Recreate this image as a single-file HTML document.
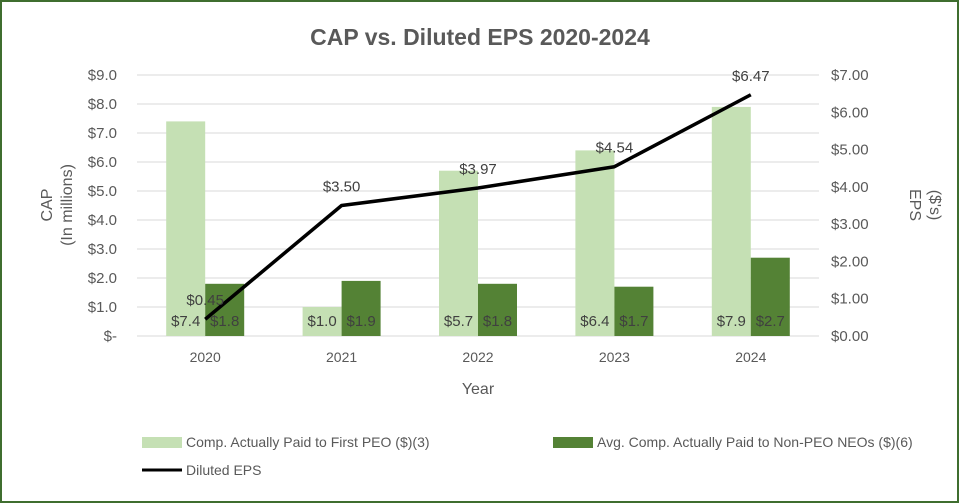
<!DOCTYPE html>
<html><head><meta charset="utf-8"><style>
body{margin:0;background:#fff}
svg{display:block;font-family:"Liberation Sans",sans-serif}
</style></head><body>
<svg id="c" width="959" height="503">
<rect x="1" y="1" width="957" height="501" fill="#fff" stroke="#3f6e2f" stroke-width="2"/>
<text x="480" y="45" text-anchor="middle" font-size="23" font-weight="bold" fill="#595959">CAP vs. Diluted EPS 2020-2024</text>
<g id="grid"></g><g id="bars"></g><g id="line"></g><g id="labels"></g><g id="axes"></g>
<text transform="translate(58,205) rotate(-90)" text-anchor="middle" font-size="16" fill="#595959"><tspan x="0" dy="-6">CAP</tspan><tspan x="0" dy="20">(In millions)</tspan></text>
<text transform="translate(910,205) rotate(90)" text-anchor="middle" font-size="16" fill="#595959">EPS</text>
<text transform="translate(930,205) rotate(90)" text-anchor="middle" font-size="16" fill="#595959">($'s)</text>
<text x="478" y="394" text-anchor="middle" font-size="16" fill="#595959">Year</text>
<g font-size="14" fill="#595959">
<rect x="142" y="437" width="40" height="11" fill="#c5e0b4"/>
<text x="186" y="447">Comp. Actually Paid to First PEO ($)(3)</text>
<rect x="553" y="437" width="40" height="11" fill="#548235"/>
<text x="597" y="447">Avg. Comp. Actually Paid to Non-PEO NEOs ($)(6)</text>
<line x1="142" y1="470" x2="182" y2="470" stroke="#000" stroke-width="3"/>
<text x="186" y="475">Diluted EPS</text>
</g>
</svg>
<script>
const years=["2020","2021","2022","2023","2024"];
const peoCap=[7.4,1.0,5.7,6.4,7.9];
const neoCap=[1.8,1.9,1.8,1.7,2.7];
const eps=[0.45,3.50,3.97,4.54,6.47];
const leftTicks=[0,1,2,3,4,5,6,7,8,9];
const rightTicks=[0,1,2,3,4,5,6,7];
const NS="http://www.w3.org/2000/svg";
const x0=137,x1=819,yb=336,yt=75;
const band=(x1-x0)/years.length;
const xc=i=>x0+band*(i+0.5);
const yL=v=>yb-(yb-yt)*v/9;
const yR=v=>yb-(yb-yt)*v/7;
function mk(p,t,a){const e=document.createElementNS(NS,t);for(const k in a)e.setAttribute(k,a[k]);document.getElementById(p).appendChild(e);return e;}
leftTicks.forEach(v=>{
 const g=mk('grid','line',{x1:x0,x2:x1,y1:yL(v),y2:yL(v),stroke:'#d9d9d9','stroke-width':1});
 
 
 const t=mk('axes','text',{x:117,y:yL(v)+5,'text-anchor':'end','font-size':15,fill:'#595959'});
 t.textContent=v===0?'$-':'$'+v.toFixed(1);
 
 
});
rightTicks.forEach(v=>{
 const t=mk('axes','text',{x:831,y:yR(v)+5,'font-size':15,fill:'#595959'});
 t.textContent='$'+v.toFixed(2);
 
 
});
const bw=39;
years.forEach((y,i)=>{
 const c=xc(i);
 const a=mk('bars','rect',{x:c-bw,y:yL(peoCap[i]),width:bw,height:yb-yL(peoCap[i]),fill:'#c5e0b4'});
 
 
 const b=mk('bars','rect',{x:c,y:yL(neoCap[i]),width:bw,height:yb-yL(neoCap[i]),fill:'#548235'});
 
 
 const l1=mk('labels','text',{x:c-bw/2,y:326,'text-anchor':'middle','font-size':15,fill:'#404040'});
 l1.textContent='$'+peoCap[i].toFixed(1);
 
 
 const l2=mk('labels','text',{x:c+bw/2,y:326,'text-anchor':'middle','font-size':15,fill:'#404040'});
 l2.textContent='$'+neoCap[i].toFixed(1);
 
 
 const xl=mk('axes','text',{x:c,y:362,'text-anchor':'middle','font-size':14,fill:'#595959'});
 xl.textContent=y;
 
 
 const el=mk('labels','text',{x:c,y:yR(eps[i])-14,'text-anchor':'middle','font-size':15,fill:'#404040'});
 el.textContent='$'+eps[i].toFixed(2);
 
 
});
const pl=mk('line','polyline',{points:eps.map((v,i)=>xc(i)+','+yR(v)).join(' '),fill:'none',stroke:'#000','stroke-width':3.5,'stroke-linejoin':'round'});


</script>
</body></html>
